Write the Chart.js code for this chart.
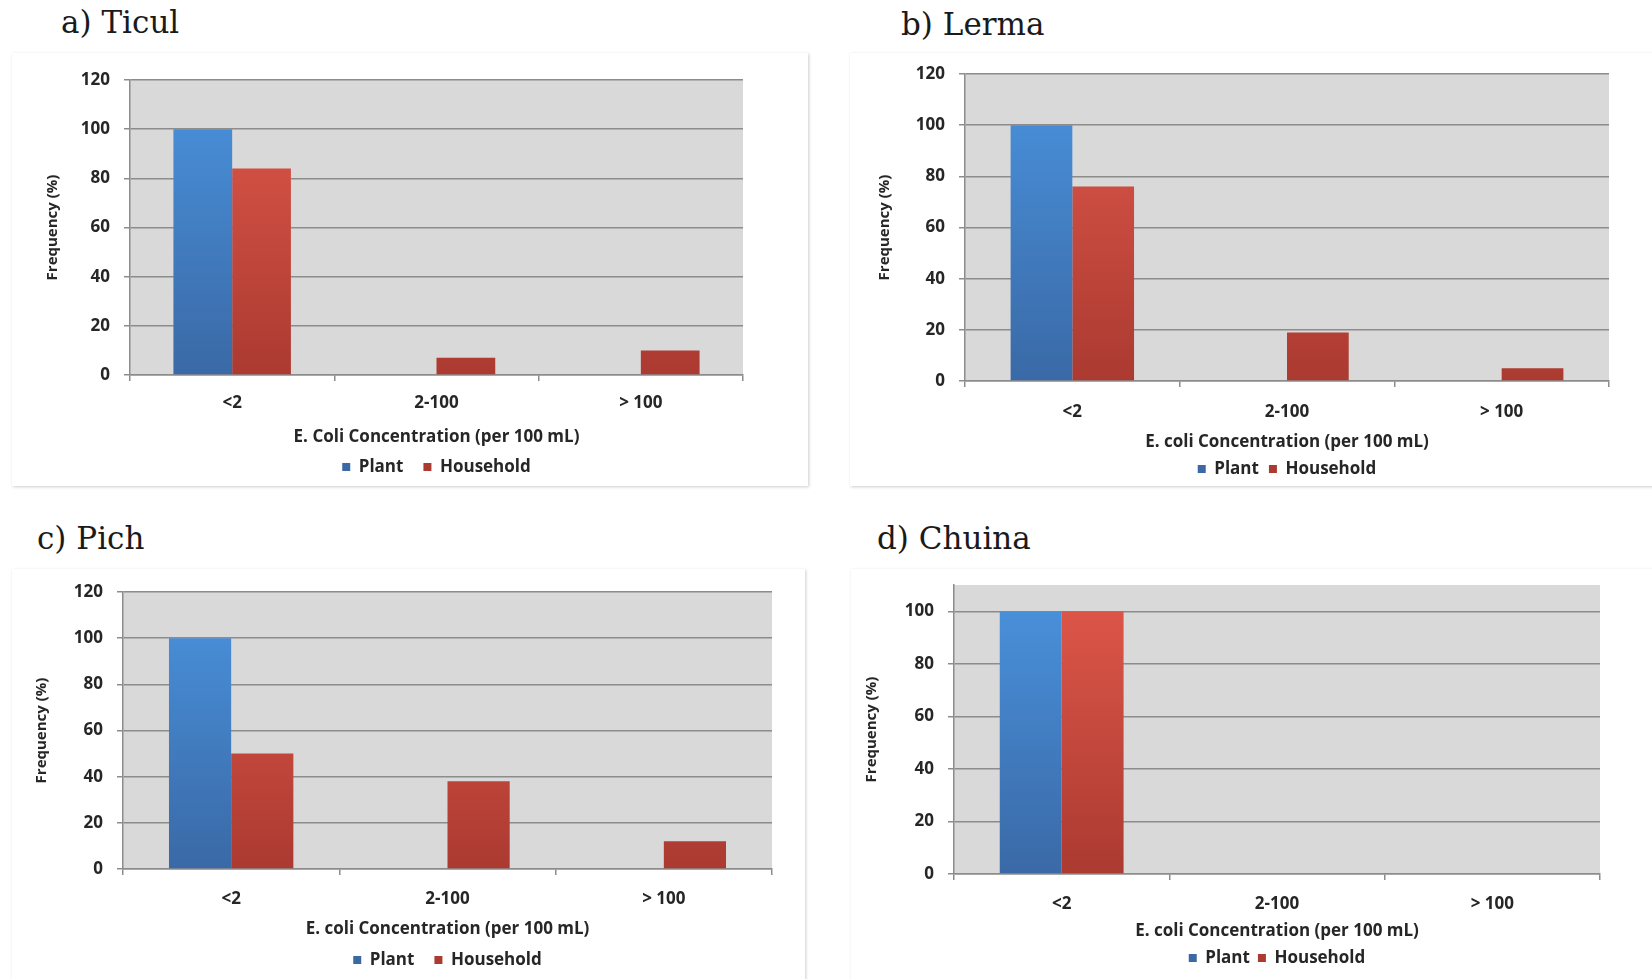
<!DOCTYPE html>
<html>
<head>
<meta charset="utf-8">
<script src="https://cdn.jsdelivr.net/npm/chart.js@4"></script>
<style>
body { margin:0; background:#fff; width:1652px; height:979px; overflow:hidden; position:relative; }
.title { position:absolute; font-family:"DejaVu Serif"; font-size:31px; line-height:36px; color:#1a1a1a; white-space:nowrap; }
.box { position:absolute; background:#fff; }
.frame { position:absolute; border:1.5px solid #b3b3b3; box-shadow:1px 1px 3px rgba(0,0,0,0.2); box-sizing:border-box; pointer-events:none; }
</style>
</head>
<body>
<div class="title" style="left:61px;top:4px">a) Ticul</div>
<div class="title" style="left:901px;top:6px">b) Lerma</div>
<div class="title" style="left:37px;top:520px">c) Pich</div>
<div class="title" style="left:877px;top:520px">d) Chuina</div>

<div class="frame" style="left:12px;top:53px;width:796px;height:433px"></div>
<div class="frame" style="left:850px;top:53px;width:830px;height:433px"></div>
<div class="frame" style="left:12px;top:569px;width:793px;height:440px"></div>
<div class="frame" style="left:851px;top:569px;width:830px;height:440px"></div>

<div class="box" id="boxA" style="left:12px;top:53px;width:796px;height:433px"><canvas id="ticul"></canvas></div>
<div class="box" id="boxB" style="left:850px;top:53px;width:830px;height:433px"><canvas id="lerma"></canvas></div>
<div class="box" id="boxC" style="left:12px;top:569px;width:793px;height:440px"><canvas id="pich"></canvas></div>
<div class="box" id="boxD" style="left:851px;top:569px;width:830px;height:440px"><canvas id="chuina"></canvas></div>

<script>
var categories = ['<2', '2-100', '> 100'];
var seriesNames = ['Plant', 'Household'];

var ticulPlant = [100, 0, 0];
var ticulHousehold = [84, 7, 10];
var lermaPlant = [100, 0, 0];
var lermaHousehold = [76, 19, 5];
var pichPlant = [100, 0, 0];
var pichHousehold = [50, 38, 12];
var chuinaPlant = [100, 0, 0];
var chuinaHousehold = [100, 0, 0];

var yStep = 20;
var yMaxes = { ticul: 120, lerma: 120, pich: 120, chuina: 110 };
var yLastTick = { ticul: 120, lerma: 120, pich: 120, chuina: 100 };

var font = '"Open Sans", sans-serif';
var textColor = '#262626';
var lineColor = '#8c8c8c';
var fs = 17;      // ticks, x title, legend
var fsY = 15;     // y title

function shade(top, bottom) {
    return function(ctx) {
        var a = ctx.chart.chartArea;
        if (!a) return bottom;
        var g = ctx.chart.ctx.createLinearGradient(0, a.top, 0, a.bottom);
        g.addColorStop(0, top);
        g.addColorStop(1, bottom);
        return g;
    };
}

var plotBg = {
    id: 'plotBg',
    beforeDraw: function(chart) {
        var a = chart.chartArea, c = chart.ctx;
        c.save();
        c.fillStyle = '#d9d9d9';
        c.fillRect(a.left, a.top, a.right - a.left, a.bottom - a.top);
        c.restore();
    }
};

function makePanel(id, plant, household, xTitle, lay) {
    var box = lay.box, plot = lay.plot;
    var lh = fs * 1.2;
    var T = 6;
    var p = lay.tick - T - lh / 2;
    var ptX = lay.xtitle - lay.tick - lh;
    var P = lay.legPad;
    var pbX = lay.legend - lay.xtitle - lh / 2 - fs / 2 - P;
    var xH = T + p + lh + ptX + lh + pbX;
    var legH = fs + P + 10;
    var padBottom = box.h - (plot.b - box.y) - xH - legH;
    var last = yLastTick[id];

    new Chart(document.getElementById(id), {
        type: 'bar',
        data: {
            labels: categories,
            datasets: [{
                label: seriesNames[0],
                data: plant,
                backgroundColor: shade('#4a93de', '#3a69a6')
            }, {
                label: seriesNames[1],
                data: household,
                backgroundColor: shade('#e0584a', '#ab3a31')
            }]
        },
        options: {
            responsive: true,
            maintainAspectRatio: false,
            animation: false,
            layout: {
                padding: { left: 0, top: plot.t - box.y, right: box.x + box.w - plot.r, bottom: padBottom }
            },
            datasets: { bar: { categoryPercentage: 0.575, barPercentage: 1 } },
            scales: {
                x: {
                    grid: { drawOnChartArea: false, drawTicks: true, tickLength: T, color: lineColor, lineWidth: 1.5 },
                    border: { color: lineColor, width: 1.5 },
                    ticks: { color: textColor, padding: p, maxRotation: 0, autoSkip: false,
                             font: { family: font, size: fs, weight: 'bold' } },
                    title: { display: true, text: xTitle, color: textColor,
                             padding: { top: ptX, bottom: pbX },
                             font: { family: font, size: fs, weight: 'bold' } },
                    afterFit: function(scale) { scale.height = xH; }
                },
                y: {
                    min: 0,
                    max: yMaxes[id],
                    ticks: { stepSize: yStep, color: textColor, padding: 20 - T,
                             font: { family: font, size: fs, weight: 'bold' } },
                    grid: { color: lineColor, lineWidth: 1.5, tickLength: T },
                    border: { color: lineColor, width: 1.5 },
                    title: { display: true, text: 'Frequency (%)', color: textColor,
                             padding: { top: lay.ytitle - fsY * 0.6, bottom: 0 },
                             font: { family: font, size: fsY, weight: 'bold' } },
                    afterBuildTicks: function(scale) {
                        scale.ticks = scale.ticks.filter(function(t) { return t.value <= last; });
                    },
                    afterFit: function(scale) {
                        scale.width = plot.l - box.x;
                        scale.paddingTop = 0;
                        scale.paddingBottom = 0;
                    }
                }
            },
            plugins: {
                legend: {
                    position: 'bottom',
                    fullSize: false,
                    labels: { boxWidth: 8, boxHeight: 8, padding: P, color: textColor,
                              font: { family: font, size: fs, weight: 'bold' } }
                },
                tooltip: { enabled: false }
            }
        },
        plugins: [plotBg]
    });
}

makePanel('ticul', ticulPlant, ticulHousehold, 'E. Coli Concentration (per 100 mL)', {
    box: { x: 12, y: 53, w: 796, h: 433 }, plot: { l: 130, r: 743, t: 80, b: 375 },
    tick: 28.5, xtitle: 62, legend: 92, legPad: 20, ytitle: 40.7
});
makePanel('lerma', lermaPlant, lermaHousehold, 'E. coli Concentration (per 100 mL)', {
    box: { x: 850, y: 53, w: 830, h: 433 }, plot: { l: 965, r: 1609, t: 74, b: 381 },
    tick: 31, xtitle: 61.5, legend: 88, legPad: 10, ytitle: 35
});
makePanel('pich', pichPlant, pichHousehold, 'E. coli Concentration (per 100 mL)', {
    box: { x: 12, y: 569, w: 793, h: 440 }, plot: { l: 123, r: 772, t: 592, b: 869 },
    tick: 30, xtitle: 60, legend: 91, legPad: 20, ytitle: 30
});
makePanel('chuina', chuinaPlant, chuinaHousehold, 'E. coli Concentration (per 100 mL)', {
    box: { x: 851, y: 569, w: 830, h: 440 }, plot: { l: 954, r: 1600, t: 585, b: 874 },
    tick: 30, xtitle: 57, legend: 84, legPad: 8, ytitle: 21
});
</script>
</body>
</html>
